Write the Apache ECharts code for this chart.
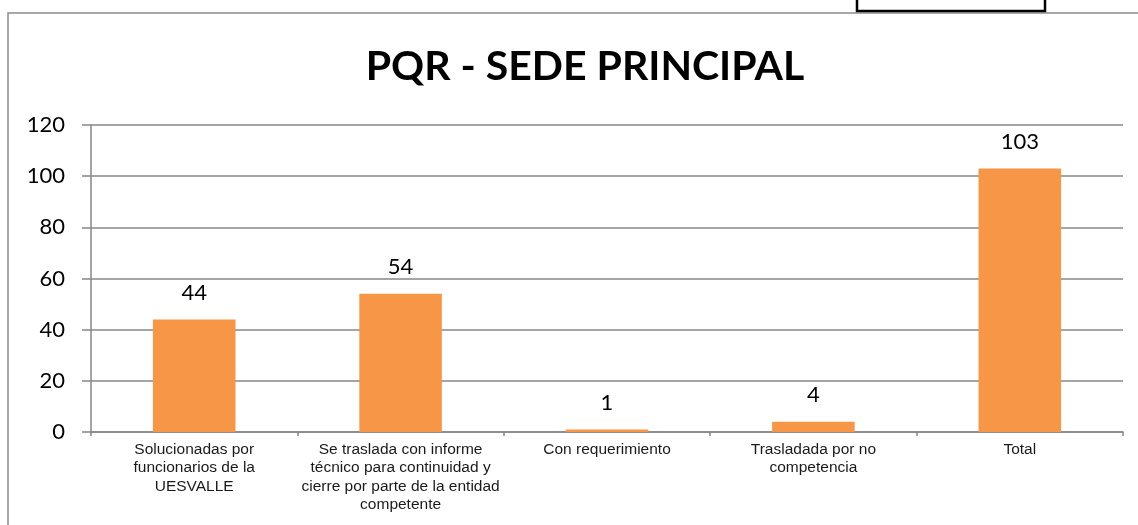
<!DOCTYPE html>
<html>
<head>
<meta charset="utf-8">
<title>PQR - SEDE PRINCIPAL</title>
<script src="https://cdn.jsdelivr.net/npm/echarts@6/dist/echarts.min.js"></script>
<style>
  html, body { margin: 0; padding: 0; background: #fff; }
  #chart { width: 1138px; height: 525px; }
</style>
</head>
<body>
<div id="chart"></div>
<script>
// data
var categories = [
  'Solucionadas por\nfuncionarios de la\nUESVALLE',
  'Se traslada con informe\ntécnico para continuidad y\ncierre por parte de la entidad\ncompetente',
  'Con requerimiento',
  'Trasladada por no\ncompetencia',
  'Total'
];
var values = [44, 54, 1, 4, 103];
var yTicks = [0, 20, 40, 60, 80, 100, 120];

var chart = echarts.init(document.getElementById('chart'));

var option = {
  backgroundColor: '#fff',
  animation: false,
  title: {
    text: 'PQR - SEDE PRINCIPAL',
    left: 580,
    top: 41,
    textAlign: 'center',
    textStyle: {
      fontFamily: 'Lato',
      fontWeight: 'bold',
      fontSize: 41,
      color: '#000'
    }
  },
  graphic: [
    // outer frame of the chart object
    {
      type: 'rect',
      shape: { x: 8, y: 13, width: 1200, height: 600 },
      style: { fill: 'none', stroke: '#8c8c8c', lineWidth: 1.5 },
      silent: true
    },
    // small box at the top right
    {
      type: 'rect',
      shape: { x: 857, y: -5, width: 188, height: 16 },
      style: { fill: '#fff', stroke: '#000', lineWidth: 2.5 },
      silent: true
    }
  ],
  grid: {
    left: 91,
    right: 15,
    top: 125,
    bottom: 93,
    containLabel: false
  },
  xAxis: {
    type: 'category',
    data: categories,
    axisLine: { lineStyle: { color: '#878787', width: 1.5 } },
    axisTick: { show: true, length: 4, lineStyle: { color: '#878787', width: 1.5 } },
    axisLabel: {
      interval: 0,
      margin: 8,
      fontFamily: 'Liberation Sans',
      fontSize: 15.5,
      lineHeight: 18.5,
      color: '#1a1a1a',
      align: 'center'
    }
  },
  yAxis: {
    type: 'value',
    min: yTicks[0],
    max: yTicks[yTicks.length - 1],
    interval: 20,
    axisLine: { show: true, lineStyle: { color: '#878787', width: 1.5 } },
    axisTick: { show: true, length: 9, lineStyle: { color: '#878787', width: 1.5 } },
    splitLine: { show: true, lineStyle: { color: '#878787', width: 1.5 } },
    axisLabel: {
      margin: 26,
      fontFamily: 'Lato',
      fontSize: 22,
      color: '#000'
    }
  },
  series: [{
    type: 'bar',
    data: values,
    barWidth: '40%',
    itemStyle: { color: '#F79646' },
    label: {
      show: true,
      position: 'top',
      distance: 16,
      fontFamily: 'Lato',
      fontSize: 22,
      color: '#000'
    }
  }]
};

chart.setOption(option);
</script>
</body>
</html>
